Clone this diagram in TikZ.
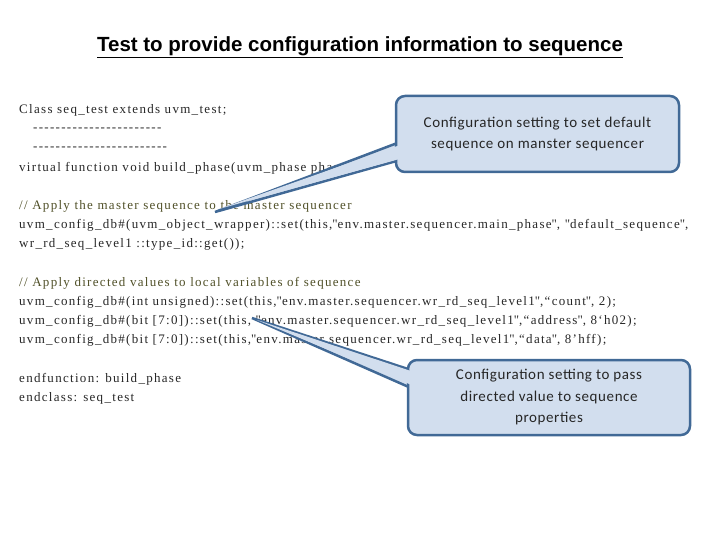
\documentclass[tikz,border=0pt]{standalone}
\usepackage{fontspec}
\setmainfont{Liberation Serif}[LetterSpace=10]
\newfontfamily\titlefont{Liberation Sans}
\newfontfamily\callfont{Carlito}[LetterSpace=4]
\definecolor{cfill}{RGB}{210,222,238}
\definecolor{cline}{RGB}{65,105,150}
\definecolor{cmtcol}{RGB}{80,80,40}
\newcommand\q{\textquotedbl}
\newcommand\dd{-{}}
\begin{document}
\begin{tikzpicture}[x=1pt,y=-1pt,
  code/.style={anchor=west,inner sep=0pt,font=\fontsize{13}{15}\selectfont,text=black!85},
  cmt/.style={code,text=cmtcol},
  callbox/.style={draw=cline,line width=2.5pt,fill=cfill,rounded corners=9pt},
  callwedge/.style={draw=cline,line width=2.5pt,fill=cfill,line join=miter},
  calltext/.style={align=center,font=\callfont\fontsize{15}{21.5}\selectfont,text=black!85}]
\useasboundingbox (0,0) rectangle (720,540);
\node[font=\titlefont\bfseries\fontsize{20.5}{24}\selectfont] (title) at (360,47) {\underline{Test to provide configuration information to sequence}};
\node[code] (l1) at (19,110) {Class seq\_test extends uvm\_test;};
\node[code] (l2) at (33,130) {\dd\dd\dd\dd\dd\dd\dd\dd\dd\dd\dd\dd\dd\dd\dd\dd\dd\dd\dd\dd\dd\dd\dd};
\node[code] (l3) at (33,149) {\dd\dd\dd\dd\dd\dd\dd\dd\dd\dd\dd\dd\dd\dd\dd\dd\dd\dd\dd\dd\dd\dd\dd\dd};
\node[code] (l4) at (19,168) {virtual function void build\_phase(uvm\_phase phase);};
\node[cmt] (l5) at (19,206) {// Apply the master sequence to the master sequencer};
\node[code] (l6) at (19,225) {uvm\_config\_db\#(uvm\_object\_wrapper)::set(this,\q env.master.sequencer.main\_phase\q, \q default\_sequence\q,};
\node[code] (l7) at (19,244) {wr\_rd\_seq\_level1 ::type\_id::get());};
\node[cmt] (l8) at (19,283) {// Apply directed values to local variables of sequence};
\node[code] (l9) at (19,302) {uvm\_config\_db\#(int unsigned)::set(this,\q env.master.sequencer.wr\_rd\_seq\_level1\q,“count\q, 2);};
\node[code] (l10) at (19,321) {uvm\_config\_db\#(bit [7:0])::set(this, \q env.master.sequencer.wr\_rd\_seq\_level1\q,“address\q, 8‘h02);};
\node[code] (l11) at (19,340) {uvm\_config\_db\#(bit [7:0])::set(this,\q env.master.sequencer.wr\_rd\_seq\_level1\q,“data\q, 8’hff);};
\node[code] (l12) at (19,379) {endfunction: build\_phase};
\node[code] (l13) at (19,398) {endclass: seq\_test};
% callout 1
\coordinate (t1) at (215,212);
\draw[callwedge] (t1) -- (400,142) -- (400,160) -- cycle;
\node[callbox,minimum width=283pt,minimum height=76pt] (c1) at (537.5,134) {};
\fill[cfill] (t1) ++(4,-3) -- (403,144) -- (403,158) -- cycle;
\node[calltext] (c1t) at (c1) {Configuration setting to set default\\sequence on manster sequencer};
% callout 2
\coordinate (t2) at (252,318);
\draw[callwedge] (t2) -- (411,370) -- (411,388) -- cycle;
\node[callbox,minimum width=282pt,minimum height=75pt] (c2) at (549,397.5) {};
\fill[cfill] (t2) ++(5,2) -- (414,372) -- (414,386) -- cycle;
\node[calltext] (c2t) at (c2) {Configuration setting to pass\\directed value to sequence\\properties};
\end{tikzpicture}
\end{document}
